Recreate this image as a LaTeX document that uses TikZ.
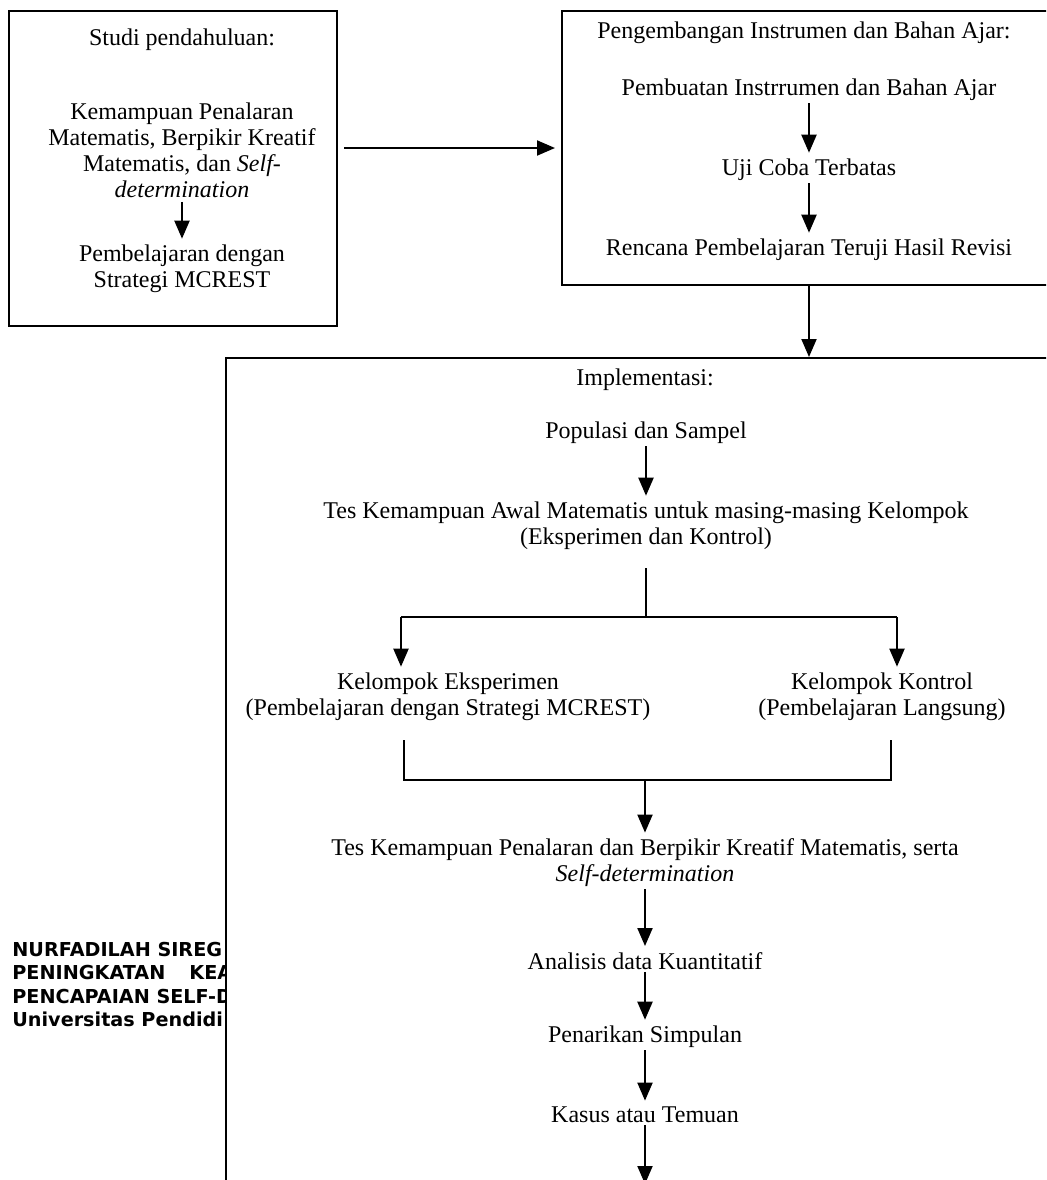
\documentclass[tikz,border=0pt]{standalone}
\usepackage{fontspec}
\setmainfont{Liberation Serif}
\newfontfamily\footfont{DejaVu Sans}
\usetikzlibrary{arrows.meta,positioning}

\begin{document}
\begin{tikzpicture}[x=0.5pt,y=-0.5pt,>={Triangle[width=7.5pt,length=9pt]},
  every node/.style={font=\fontsize{12}{13}\selectfont},
  txt/.style={align=center,inner sep=0pt},
  box/.style={draw,line width=1pt,fill=white,anchor=north west,inner sep=0pt},
  arr/.style={->,line width=1pt,shorten <=1pt,shorten >=3pt},
  link/.style={line width=1pt},
  foot/.style={anchor=west,inner sep=0pt,font=\footfont\bfseries\fontsize{9.6}{11}\selectfont}]
\clip (0,0) rectangle (1046,1180);
\fill[white] (0,0) rectangle (1046,1180);
\node[foot] (foot1) at (12,949) {NURFADILAH SIREG};
\node[foot] (foot2) at (12,972) {PENINGKATAN\hspace{12pt}KEA};
\node[foot] (foot3) at (12,996) {PENCAPAIAN SELF-D};
\node[foot] (foot4) at (12,1019) {Universitas Pendidi};
\node[box,minimum width=164pt,minimum height=157.5pt] (studybox) at (8,10) {};
\node[box,minimum width=252.5pt,minimum height=137pt] (devbox) at (561,10) {};
\node[box,minimum width=420.5pt,minimum height=421.5pt] (implbox) at (225,357) {};
\node[txt] (studytitle) at (182,40) {Studi pendahuluan:};
\node[txt] (studyA) at (182,150) {Kemampuan Penalaran\\Matematis, Berpikir Kreatif\\Matematis, dan \textit{Self-}\\\textit{determination}};
\node[txt] (studyB) at (182,269) {Pembelajaran dengan\\Strategi MCREST};
\node[txt] (devtitle) at (804,33) {Pengembangan Instrumen dan Bahan Ajar:};
\node[txt] (pembuatan) at (809,90) {Pembuatan Instrrumen dan Bahan Ajar};
\node[txt] (uji) at (809,170) {Uji Coba Terbatas};
\node[txt] (rencana) at (809,250) {Rencana Pembelajaran Teruji Hasil Revisi};
\node[txt] (impltitle) at (645,380) {Implementasi:};
\node[txt] (populasi) at (646,433) {Populasi dan Sampel};
\node[txt] (awal) at (646,526) {Tes Kemampuan Awal Matematis untuk masing-masing Kelompok\\(Eksperimen dan Kontrol)};
\node[txt] (eksp) at (448,697) {Kelompok Eksperimen\\(Pembelajaran dengan Strategi MCREST)};
\node[txt] (kont) at (882,697) {Kelompok Kontrol\\(Pembelajaran Langsung)};
\node[txt] (pen) at (645,863) {Tes Kemampuan Penalaran dan Berpikir Kreatif Matematis, serta\\\textit{Self-determination}};
\node[txt] (analisis) at (645,961) {Analisis data Kuantitatif};
\node[txt] (penarikan) at (645,1037) {Penarikan Simpulan};
\node[txt] (kasus) at (645,1115) {Kasus atau Temuan};
\coordinate (fork) at (646,617);
\coordinate (forkL) at (401,617);
\coordinate (forkR) at (897,617);
\coordinate (brL) at (404,740);
\coordinate (brR) at (891,740);
\coordinate (brM) at (645,780);
\coordinate (exit) at (645,1190);
\draw[arr,shorten <=2pt] (studyA) -- (studyB);
\draw[arr,shorten <=3pt] (studybox.east |- devbox.west) -- (devbox.west);
\draw[arr] (pembuatan) -- (uji);
\draw[arr] (uji) -- (rencana);
\draw[arr,shorten <=0pt,shorten >=0pt] (rencana |- devbox.south) -- (rencana |- implbox.north);
\draw[arr] (populasi) -- (awal);
\draw[link] ([yshift=-9pt]awal.south) -- (fork);
\draw[link] (forkL) -- (forkR);
\draw[arr,shorten <=0pt] (forkL) -- (forkL |- eksp.north);
\draw[arr,shorten <=0pt] (forkR) -- (forkR |- kont.north);
\draw[link] (brL) |- (brM) -| (brR);
\draw[arr,shorten <=0pt] (brM) -- (pen);
\draw[arr] (pen) -- (analisis);
\draw[arr] (analisis) -- (penarikan);
\draw[arr] (penarikan) -- (kasus);
\draw[arr] (kasus) -- (exit);
\end{tikzpicture}
\end{document}
